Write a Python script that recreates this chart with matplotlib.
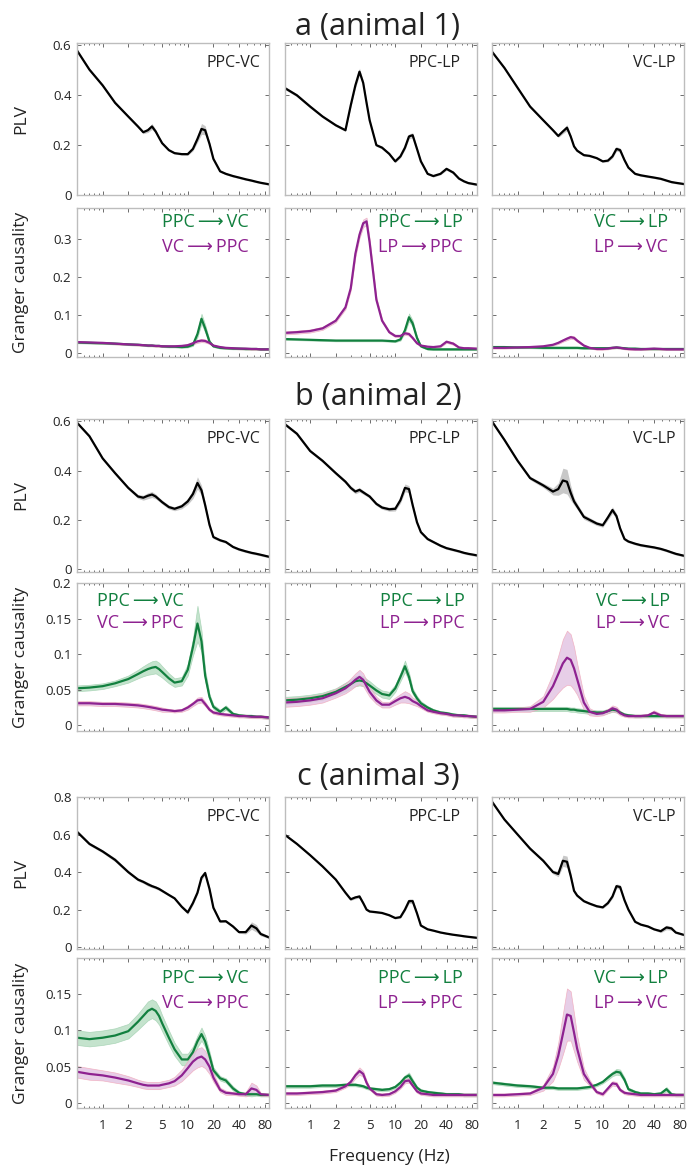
import numpy as np
import matplotlib.pyplot as plt
from matplotlib.ticker import NullFormatter

plt.rcParams['font.family'] = ['Open Sans', 'DejaVu Sans']

# frequency grid (Hz) shared by every curve
freq = [0.5, 0.7, 1.0, 1.4, 2.0, 2.6, 3.0, 3.4, 3.8, 4.2, 4.6, 5.0, 6, 7, 8.5,
        10, 11.5, 13, 14.5, 16, 18, 20, 24, 28, 34, 40, 48, 56, 64, 72, 90]

# ---- animal 1: PLV (mean, half band) ----
plv_a1 = [0.58, 0.503, 0.44, 0.37, 0.315, 0.275, 0.252, 0.26, 0.275, 0.255, 0.23, 0.208, 0.18, 0.168, 0.164,
          0.164, 0.185, 0.225, 0.265, 0.26, 0.205, 0.145, 0.095, 0.085, 0.076, 0.07, 0.063, 0.058, 0.053, 0.049, 0.043]
plv_a1_sd = [0.006, 0.006, 0.006, 0.006, 0.005, 0.005, 0.006, 0.009, 0.012, 0.008, 0.005, 0.005, 0.004, 0.004, 0.004,
             0.005, 0.008, 0.014, 0.022, 0.018, 0.008, 0.005, 0.004, 0.004, 0.004, 0.004, 0.004, 0.004, 0.004, 0.004, 0.004]
plv_a2 = [0.43, 0.40, 0.355, 0.315, 0.28, 0.26, 0.36, 0.44, 0.495, 0.45, 0.37, 0.30, 0.20, 0.19, 0.165,
          0.135, 0.155, 0.19, 0.235, 0.24, 0.185, 0.135, 0.085, 0.076, 0.085, 0.105, 0.09, 0.066, 0.055, 0.048, 0.042]
plv_a2_sd = [0.006, 0.006, 0.006, 0.005, 0.005, 0.005, 0.008, 0.012, 0.014, 0.01, 0.008, 0.006, 0.005, 0.005, 0.005,
             0.005, 0.006, 0.008, 0.01, 0.01, 0.007, 0.005, 0.004, 0.004, 0.004, 0.006, 0.005, 0.004, 0.004, 0.004, 0.004]
plv_a3 = [0.575, 0.51, 0.43, 0.355, 0.30, 0.26, 0.237, 0.255, 0.27, 0.235, 0.195, 0.178, 0.16, 0.157, 0.148,
          0.135, 0.138, 0.155, 0.185, 0.18, 0.14, 0.11, 0.085, 0.079, 0.074, 0.07, 0.065, 0.058, 0.052, 0.049, 0.044]
plv_a3_sd = [0.005, 0.005, 0.005, 0.005, 0.005, 0.005, 0.006, 0.009, 0.012, 0.008, 0.005, 0.005, 0.004, 0.004, 0.004,
             0.004, 0.005, 0.007, 0.009, 0.008, 0.006, 0.004, 0.004, 0.004, 0.004, 0.004, 0.004, 0.004, 0.004, 0.004, 0.004]

# ---- animal 1: Granger causality (fwd = green, rev = purple) ----
gc_a1_fwd = [0.028, 0.027, 0.026, 0.025, 0.023, 0.022, 0.021, 0.02, 0.02, 0.019, 0.019, 0.018, 0.017, 0.017, 0.016,
             0.017, 0.022, 0.05, 0.09, 0.065, 0.03, 0.018, 0.014, 0.013, 0.012, 0.012, 0.011, 0.011, 0.011, 0.01, 0.01]
gc_a1_fwd_sd = [0.002, 0.002, 0.002, 0.002, 0.002, 0.002, 0.002, 0.002, 0.002, 0.002, 0.002, 0.002, 0.002, 0.002, 0.002,
                0.002, 0.003, 0.008, 0.013, 0.01, 0.004, 0.002, 0.002, 0.002, 0.002, 0.002, 0.002, 0.002, 0.002, 0.002, 0.002]
gc_a1_rev = [0.029, 0.028, 0.027, 0.025, 0.023, 0.022, 0.021, 0.02, 0.02, 0.019, 0.019, 0.018, 0.018, 0.018, 0.019,
             0.021, 0.026, 0.031, 0.033, 0.032, 0.027, 0.02, 0.016, 0.014, 0.013, 0.012, 0.012, 0.011, 0.011, 0.01, 0.01]
gc_a1_rev_sd = [0.002, 0.002, 0.002, 0.002, 0.002, 0.002, 0.002, 0.002, 0.002, 0.002, 0.002, 0.002, 0.002, 0.002, 0.002,
                0.002, 0.003, 0.004, 0.004, 0.004, 0.003, 0.002, 0.002, 0.002, 0.002, 0.002, 0.002, 0.002, 0.002, 0.002, 0.002]
gc_a2_fwd = [0.037, 0.036, 0.035, 0.034, 0.033, 0.033, 0.033, 0.033, 0.033, 0.033, 0.033, 0.033, 0.033, 0.033, 0.032,
             0.031, 0.036, 0.06, 0.094, 0.078, 0.04, 0.018, 0.011, 0.01, 0.01, 0.01, 0.01, 0.01, 0.01, 0.01, 0.01]
gc_a2_fwd_sd = [0.002, 0.002, 0.002, 0.002, 0.002, 0.002, 0.002, 0.002, 0.002, 0.002, 0.002, 0.002, 0.002, 0.002, 0.002,
                0.002, 0.003, 0.006, 0.01, 0.008, 0.004, 0.002, 0.002, 0.002, 0.002, 0.002, 0.002, 0.002, 0.002, 0.002, 0.002]
gc_a2_rev = [0.053, 0.055, 0.058, 0.065, 0.085, 0.12, 0.17, 0.26, 0.31, 0.34, 0.345, 0.29, 0.14, 0.085, 0.055,
             0.045, 0.045, 0.052, 0.05, 0.04, 0.026, 0.02, 0.017, 0.016, 0.018, 0.03, 0.025, 0.015, 0.013, 0.013, 0.012]
gc_a2_rev_sd = [0.004, 0.004, 0.004, 0.004, 0.004, 0.005, 0.006, 0.008, 0.009, 0.01, 0.01, 0.009, 0.006, 0.004, 0.003,
                0.003, 0.003, 0.004, 0.004, 0.003, 0.002, 0.002, 0.002, 0.002, 0.002, 0.003, 0.003, 0.002, 0.002, 0.002, 0.002]
gc_a3_fwd = [0.016, 0.016, 0.015, 0.015, 0.014, 0.014, 0.014, 0.014, 0.014, 0.014, 0.014, 0.014, 0.013, 0.013, 0.013,
             0.013, 0.013, 0.014, 0.015, 0.014, 0.013, 0.012, 0.012, 0.011, 0.011, 0.011, 0.011, 0.011, 0.011, 0.011, 0.011]
gc_a3_fwd_sd = [0.002, 0.002, 0.002, 0.002, 0.002, 0.002, 0.002, 0.002, 0.002, 0.002, 0.002, 0.002, 0.002, 0.002, 0.002,
                0.002, 0.002, 0.002, 0.002, 0.002, 0.002, 0.002, 0.002, 0.002, 0.002, 0.002, 0.002, 0.002, 0.002, 0.002, 0.002]
gc_a3_rev = [0.014, 0.014, 0.015, 0.016, 0.018, 0.022, 0.027, 0.033, 0.038, 0.042, 0.04, 0.033, 0.02, 0.014, 0.011,
             0.011, 0.012, 0.014, 0.015, 0.014, 0.012, 0.011, 0.01, 0.01, 0.011, 0.012, 0.011, 0.01, 0.01, 0.01, 0.01]
gc_a3_rev_sd = [0.002, 0.002, 0.002, 0.002, 0.002, 0.002, 0.003, 0.003, 0.004, 0.004, 0.004, 0.003, 0.002, 0.002, 0.002,
                0.002, 0.002, 0.002, 0.002, 0.002, 0.002, 0.002, 0.002, 0.002, 0.002, 0.002, 0.002, 0.002, 0.002, 0.002, 0.002]

# ---- animal 2 ----
plv_b1 = [0.595, 0.54, 0.45, 0.39, 0.33, 0.295, 0.29, 0.298, 0.303, 0.295, 0.283, 0.272, 0.252, 0.245, 0.255,
          0.275, 0.305, 0.35, 0.32, 0.26, 0.18, 0.13, 0.117, 0.11, 0.09, 0.08, 0.072, 0.066, 0.062, 0.058, 0.05]
plv_b1_sd = [0.006, 0.006, 0.006, 0.006, 0.006, 0.008, 0.01, 0.012, 0.012, 0.01, 0.008, 0.008, 0.008, 0.008, 0.01,
             0.012, 0.018, 0.025, 0.02, 0.012, 0.008, 0.006, 0.005, 0.005, 0.005, 0.005, 0.005, 0.005, 0.005, 0.005, 0.005]
plv_b2 = [0.59, 0.55, 0.48, 0.44, 0.39, 0.355, 0.33, 0.315, 0.322, 0.312, 0.303, 0.295, 0.265, 0.25, 0.243,
          0.245, 0.28, 0.33, 0.325, 0.26, 0.19, 0.15, 0.122, 0.11, 0.095, 0.085, 0.078, 0.072, 0.066, 0.062, 0.056]
plv_b2_sd = [0.006, 0.006, 0.006, 0.006, 0.006, 0.007, 0.008, 0.009, 0.009, 0.008, 0.007, 0.007, 0.007, 0.007, 0.008,
             0.009, 0.012, 0.016, 0.014, 0.01, 0.007, 0.006, 0.005, 0.005, 0.005, 0.005, 0.005, 0.005, 0.005, 0.005, 0.005]
plv_b3 = [0.60, 0.525, 0.44, 0.37, 0.34, 0.315, 0.325, 0.36, 0.355, 0.31, 0.275, 0.255, 0.212, 0.2, 0.185,
          0.178, 0.21, 0.24, 0.215, 0.165, 0.122, 0.112, 0.103, 0.097, 0.092, 0.088, 0.082, 0.075, 0.068, 0.062, 0.054]
plv_b3_sd = [0.006, 0.006, 0.006, 0.007, 0.009, 0.014, 0.025, 0.05, 0.05, 0.03, 0.015, 0.012, 0.01, 0.009, 0.008,
             0.008, 0.01, 0.013, 0.011, 0.008, 0.006, 0.005, 0.005, 0.005, 0.005, 0.005, 0.005, 0.005, 0.005, 0.005, 0.005]

gc_b1_fwd = [0.052, 0.053, 0.055, 0.059, 0.065, 0.072, 0.076, 0.079, 0.081, 0.082, 0.079, 0.075, 0.066, 0.06, 0.062,
             0.078, 0.11, 0.143, 0.118, 0.07, 0.04, 0.026, 0.019, 0.025, 0.016, 0.014, 0.013, 0.013, 0.012, 0.012, 0.011]
gc_b1_fwd_sd = [0.004, 0.004, 0.004, 0.004, 0.005, 0.006, 0.007, 0.008, 0.009, 0.009, 0.009, 0.008, 0.007, 0.006, 0.006,
                0.008, 0.012, 0.025, 0.015, 0.008, 0.004, 0.003, 0.003, 0.003, 0.002, 0.002, 0.002, 0.002, 0.002, 0.002, 0.002]
gc_b1_rev = [0.031, 0.031, 0.03, 0.03, 0.029, 0.028, 0.027, 0.026, 0.025, 0.024, 0.023, 0.022, 0.021, 0.02, 0.021,
             0.025, 0.03, 0.035, 0.036, 0.03, 0.022, 0.018, 0.016, 0.015, 0.014, 0.013, 0.013, 0.012, 0.012, 0.012, 0.011]
gc_b1_rev_sd = [0.003, 0.003, 0.003, 0.003, 0.003, 0.003, 0.003, 0.003, 0.003, 0.003, 0.003, 0.003, 0.002, 0.002, 0.002,
                0.003, 0.003, 0.004, 0.004, 0.003, 0.002, 0.002, 0.002, 0.002, 0.002, 0.002, 0.002, 0.002, 0.002, 0.002, 0.002]
gc_b2_fwd = [0.035, 0.036, 0.038, 0.041, 0.047, 0.054, 0.058, 0.062, 0.063, 0.062, 0.059, 0.056, 0.049, 0.044, 0.042,
             0.052, 0.068, 0.083, 0.068, 0.048, 0.038, 0.031, 0.025, 0.021, 0.018, 0.017, 0.015, 0.014, 0.014, 0.013, 0.012]
gc_b2_fwd_sd = [0.005, 0.005, 0.005, 0.005, 0.005, 0.006, 0.006, 0.007, 0.007, 0.007, 0.006, 0.006, 0.005, 0.005, 0.005,
                0.005, 0.006, 0.008, 0.006, 0.004, 0.003, 0.003, 0.002, 0.002, 0.002, 0.002, 0.002, 0.002, 0.002, 0.002, 0.002]
gc_b2_rev = [0.032, 0.033, 0.035, 0.038, 0.045, 0.052, 0.058, 0.064, 0.068, 0.064, 0.055, 0.047, 0.035, 0.029, 0.029,
             0.034, 0.038, 0.04, 0.038, 0.034, 0.031, 0.027, 0.021, 0.019, 0.017, 0.016, 0.014, 0.014, 0.013, 0.013, 0.012]
gc_b2_rev_sd = [0.006, 0.006, 0.006, 0.006, 0.006, 0.007, 0.008, 0.009, 0.01, 0.009, 0.008, 0.007, 0.005, 0.004, 0.004,
                0.005, 0.006, 0.008, 0.007, 0.005, 0.004, 0.003, 0.002, 0.002, 0.002, 0.002, 0.002, 0.002, 0.002, 0.002, 0.002]
gc_b3_fwd = [0.023, 0.023, 0.023, 0.023, 0.023, 0.023, 0.023, 0.023, 0.023, 0.022, 0.022, 0.021, 0.02, 0.019, 0.018,
             0.018, 0.02, 0.022, 0.021, 0.018, 0.015, 0.014, 0.013, 0.013, 0.013, 0.013, 0.013, 0.013, 0.013, 0.013, 0.013]
gc_b3_fwd_sd = [0.003, 0.003, 0.003, 0.003, 0.003, 0.003, 0.003, 0.003, 0.003, 0.003, 0.003, 0.003, 0.003, 0.003, 0.003,
                0.003, 0.003, 0.003, 0.003, 0.002, 0.002, 0.002, 0.002, 0.002, 0.002, 0.002, 0.002, 0.002, 0.002, 0.002, 0.002]
gc_b3_rev = [0.021, 0.021, 0.022, 0.023, 0.033, 0.055, 0.072, 0.087, 0.095, 0.092, 0.08, 0.065, 0.032, 0.019, 0.016,
             0.017, 0.02, 0.024, 0.022, 0.017, 0.014, 0.013, 0.013, 0.013, 0.014, 0.018, 0.014, 0.013, 0.013, 0.013, 0.013]
gc_b3_rev_sd = [0.003, 0.003, 0.003, 0.004, 0.008, 0.018, 0.026, 0.034, 0.038, 0.036, 0.03, 0.022, 0.01, 0.005, 0.003,
                0.003, 0.003, 0.004, 0.004, 0.003, 0.002, 0.002, 0.002, 0.002, 0.002, 0.003, 0.002, 0.002, 0.002, 0.002, 0.002]

# ---- animal 3 ----
plv_c1 = [0.615, 0.55, 0.51, 0.465, 0.40, 0.36, 0.348, 0.335, 0.325, 0.318, 0.31, 0.30, 0.278, 0.26, 0.215,
          0.185, 0.235, 0.29, 0.37, 0.395, 0.31, 0.21, 0.137, 0.138, 0.11, 0.08, 0.08, 0.115, 0.1, 0.07, 0.052]
plv_c1_sd = [0.008, 0.008, 0.008, 0.01, 0.008, 0.008, 0.008, 0.01, 0.008, 0.008, 0.008, 0.007, 0.006, 0.006, 0.008,
             0.01, 0.01, 0.01, 0.012, 0.012, 0.01, 0.008, 0.006, 0.006, 0.006, 0.006, 0.01, 0.02, 0.02, 0.01, 0.006]
plv_c2 = [0.60, 0.55, 0.49, 0.43, 0.36, 0.29, 0.255, 0.265, 0.27, 0.235, 0.2, 0.19, 0.186, 0.182, 0.17,
          0.155, 0.16, 0.2, 0.245, 0.245, 0.18, 0.115, 0.095, 0.088, 0.078, 0.072, 0.066, 0.062, 0.058, 0.055, 0.05]
plv_c2_sd = [0.005, 0.005, 0.005, 0.005, 0.005, 0.005, 0.006, 0.008, 0.01, 0.008, 0.006, 0.005, 0.005, 0.005, 0.005,
             0.005, 0.006, 0.008, 0.012, 0.012, 0.008, 0.005, 0.004, 0.004, 0.004, 0.004, 0.004, 0.004, 0.004, 0.004, 0.004]
plv_c3 = [0.775, 0.68, 0.60, 0.525, 0.46, 0.40, 0.39, 0.46, 0.455, 0.38, 0.30, 0.275, 0.245, 0.232, 0.218,
          0.212, 0.235, 0.27, 0.325, 0.32, 0.25, 0.2, 0.135, 0.12, 0.11, 0.095, 0.085, 0.105, 0.1, 0.078, 0.065]
plv_c3_sd = [0.006, 0.006, 0.006, 0.008, 0.008, 0.01, 0.015, 0.03, 0.03, 0.02, 0.01, 0.008, 0.006, 0.006, 0.006,
             0.006, 0.008, 0.01, 0.012, 0.012, 0.008, 0.006, 0.005, 0.005, 0.005, 0.005, 0.008, 0.012, 0.01, 0.006, 0.005]

gc_c1_fwd = [0.09, 0.088, 0.09, 0.093, 0.099, 0.112, 0.12, 0.127, 0.13, 0.127, 0.12, 0.11, 0.09, 0.074, 0.06,
             0.06, 0.07, 0.085, 0.095, 0.085, 0.065, 0.045, 0.034, 0.031, 0.02, 0.014, 0.012, 0.012, 0.012, 0.011, 0.011]
gc_c1_fwd_sd = [0.01, 0.01, 0.01, 0.01, 0.01, 0.011, 0.012, 0.013, 0.013, 0.013, 0.012, 0.011, 0.01, 0.009, 0.008,
                0.008, 0.008, 0.008, 0.009, 0.008, 0.006, 0.004, 0.003, 0.003, 0.003, 0.002, 0.002, 0.003, 0.002, 0.002, 0.002]
gc_c1_rev = [0.043, 0.04, 0.038, 0.035, 0.031, 0.027, 0.025, 0.024, 0.024, 0.024, 0.024, 0.025, 0.027, 0.03, 0.038,
             0.048, 0.057, 0.062, 0.064, 0.06, 0.05, 0.035, 0.018, 0.014, 0.013, 0.012, 0.012, 0.02, 0.018, 0.012, 0.011]
gc_c1_rev_sd = [0.008, 0.008, 0.007, 0.007, 0.006, 0.005, 0.005, 0.005, 0.005, 0.005, 0.005, 0.005, 0.005, 0.006, 0.008,
                0.01, 0.012, 0.013, 0.013, 0.012, 0.01, 0.006, 0.003, 0.003, 0.002, 0.002, 0.003, 0.008, 0.006, 0.002, 0.002]
gc_c2_fwd = [0.023, 0.023, 0.023, 0.024, 0.024, 0.025, 0.025, 0.025, 0.024, 0.023, 0.021, 0.02, 0.019, 0.018, 0.019,
             0.022, 0.028, 0.035, 0.038, 0.03, 0.021, 0.017, 0.015, 0.014, 0.013, 0.012, 0.012, 0.012, 0.011, 0.011, 0.011]
gc_c2_fwd_sd = [0.002, 0.002, 0.002, 0.002, 0.002, 0.002, 0.002, 0.002, 0.002, 0.002, 0.002, 0.002, 0.002, 0.002, 0.002,
                0.002, 0.002, 0.003, 0.004, 0.003, 0.002, 0.002, 0.002, 0.002, 0.002, 0.002, 0.002, 0.002, 0.002, 0.002, 0.002]
gc_c2_rev = [0.013, 0.013, 0.014, 0.015, 0.017, 0.023, 0.029, 0.038, 0.044, 0.04, 0.028, 0.02, 0.012, 0.011, 0.012,
             0.016, 0.022, 0.03, 0.031, 0.024, 0.016, 0.013, 0.012, 0.011, 0.011, 0.011, 0.011, 0.011, 0.011, 0.011, 0.011]
gc_c2_rev_sd = [0.002, 0.002, 0.002, 0.002, 0.002, 0.002, 0.003, 0.004, 0.005, 0.004, 0.003, 0.002, 0.002, 0.002, 0.002,
                0.002, 0.002, 0.003, 0.003, 0.002, 0.002, 0.002, 0.002, 0.002, 0.002, 0.002, 0.002, 0.002, 0.002, 0.002, 0.002]
gc_c3_fwd = [0.028, 0.026, 0.024, 0.023, 0.021, 0.021, 0.02, 0.02, 0.02, 0.02, 0.02, 0.02, 0.021, 0.022, 0.025,
             0.029, 0.035, 0.04, 0.043, 0.042, 0.032, 0.019, 0.015, 0.013, 0.013, 0.012, 0.013, 0.019, 0.012, 0.011, 0.011]
gc_c3_fwd_sd = [0.002, 0.002, 0.002, 0.002, 0.002, 0.002, 0.002, 0.002, 0.002, 0.002, 0.002, 0.002, 0.002, 0.002, 0.002,
                0.002, 0.003, 0.003, 0.004, 0.004, 0.003, 0.002, 0.002, 0.002, 0.002, 0.002, 0.002, 0.003, 0.002, 0.002, 0.002]
gc_c3_rev = [0.011, 0.011, 0.012, 0.013, 0.021, 0.04, 0.065, 0.095, 0.122, 0.12, 0.097, 0.075, 0.04, 0.028, 0.015,
             0.012, 0.02, 0.027, 0.026, 0.018, 0.014, 0.013, 0.012, 0.011, 0.011, 0.011, 0.011, 0.011, 0.011, 0.011, 0.011]
gc_c3_rev_sd = [0.002, 0.002, 0.002, 0.002, 0.004, 0.01, 0.018, 0.028, 0.036, 0.034, 0.026, 0.018, 0.008, 0.004, 0.002,
                0.002, 0.002, 0.003, 0.003, 0.002, 0.002, 0.002, 0.002, 0.002, 0.002, 0.002, 0.002, 0.002, 0.002, 0.002, 0.002]

pair_names = ['PPC-VC', 'PPC-LP', 'VC-LP']
fwd_labels = ['PPC\u2009\u27f6\u2009VC', 'PPC\u2009\u27f6\u2009LP', 'VC\u2009\u27f6\u2009LP']
rev_labels = ['VC\u2009\u27f6\u2009PPC', 'LP\u2009\u27f6\u2009PPC', 'LP\u2009\u27f6\u2009VC']
titles = ['a (animal 1)', 'b (animal 2)', 'c (animal 3)']
xtick_vals = [1, 2, 5, 10, 20, 40, 80]

GREEN = '#12803f'
PURPLE = '#8e2290'
TXT = '#222222'

# ---- layout in pixels ----
W, H = 689, 1169
cols = [(77, 269), (284.5, 476.5), (492, 684)]
rows = [(43, 195), (208, 357), (419, 572), (583, 731), (797, 949), (958, 1108)]


def rect(l, t, r, b):
    return [l / W, 1 - b / H, (r - l) / W, (b - t) / H]


def style_ax(ax, ylim, yticks, show_y, show_x):
    ax.set_xscale('log')
    ax.set_xlim(0.5, 90)
    ax.set_ylim(*ylim)
    ax.set_xticks(xtick_vals)
    ax.xaxis.set_minor_formatter(NullFormatter())
    ax.set_xticklabels([str(v) for v in xtick_vals] if show_x else [])
    ax.set_yticks(yticks)
    ax.set_yticklabels(['%g' % v for v in yticks] if show_y else [])
    ax.tick_params(which='both', direction='in', top=True, right=True,
                   color='#555555', width=0.6, labelsize=9.5, labelcolor=TXT, pad=4)
    ax.tick_params(which='major', length=3)
    ax.tick_params(which='minor', length=1.5)
    ax.tick_params(axis='x', pad=8)
    for s in ax.spines.values():
        s.set_color('#bdbdbd')
        s.set_linewidth(1.0)


fig = plt.figure(figsize=(W / 100, H / 100), dpi=100)

plv_sets = [[(plv_a1, plv_a1_sd), (plv_a2, plv_a2_sd), (plv_a3, plv_a3_sd)],
            [(plv_b1, plv_b1_sd), (plv_b2, plv_b2_sd), (plv_b3, plv_b3_sd)],
            [(plv_c1, plv_c1_sd), (plv_c2, plv_c2_sd), (plv_c3, plv_c3_sd)]]
gc_sets = [[(gc_a1_fwd, gc_a1_fwd_sd, gc_a1_rev, gc_a1_rev_sd),
            (gc_a2_fwd, gc_a2_fwd_sd, gc_a2_rev, gc_a2_rev_sd),
            (gc_a3_fwd, gc_a3_fwd_sd, gc_a3_rev, gc_a3_rev_sd)],
           [(gc_b1_fwd, gc_b1_fwd_sd, gc_b1_rev, gc_b1_rev_sd),
            (gc_b2_fwd, gc_b2_fwd_sd, gc_b2_rev, gc_b2_rev_sd),
            (gc_b3_fwd, gc_b3_fwd_sd, gc_b3_rev, gc_b3_rev_sd)],
           [(gc_c1_fwd, gc_c1_fwd_sd, gc_c1_rev, gc_c1_rev_sd),
            (gc_c2_fwd, gc_c2_fwd_sd, gc_c2_rev, gc_c2_rev_sd),
            (gc_c3_fwd, gc_c3_fwd_sd, gc_c3_rev, gc_c3_rev_sd)]]

plv_ylims = [(0, 0.61), (-0.012, 0.61), (-0.01, 0.8)]
plv_yticks = [[0, 0.2, 0.4, 0.6], [0, 0.2, 0.4, 0.6], [0, 0.2, 0.4, 0.6, 0.8]]
gc_ylims = [(-0.01, 0.38), (-0.008, 0.2), (-0.007, 0.2)]
gc_yticks = [[0, 0.1, 0.2, 0.3], [0, 0.05, 0.1, 0.15, 0.2], [0, 0.05, 0.1, 0.15]]

# legend anchors (axes fraction): x, ha, y1, y2
legend_pos = [[(0.896, 'right', 0.906, 0.738), (0.93, 'right', 0.906, 0.738), (0.917, 'right', 0.906, 0.738)],
              [(0.104, 'left', 0.879, 0.732), (0.94, 'right', 0.879, 0.732), (0.927, 'right', 0.879, 0.732)],
              [(0.896, 'right', 0.867, 0.70), (0.93, 'right', 0.867, 0.70), (0.917, 'right', 0.867, 0.70)]]
name_x = [0.955, 0.915, 0.955]
title_y = [27, 397, 777]

for r in range(3):
    fig.text(378 / W, 1 - title_y[r] / H, titles[r], ha='center', va='center', fontsize=22, color=TXT)
    for c in range(3):
        l, rr = cols[c]
        # PLV panel
        t, b = rows[2 * r]
        ax = fig.add_axes(rect(l, t, rr, b))
        y, sd = np.array(plv_sets[r][c][0]), np.array(plv_sets[r][c][1])
        ax.fill_between(freq, y - sd, y + sd, color='#c8c8c8', lw=0)
        ax.plot(freq, y, color='black', lw=1.6)
        style_ax(ax, plv_ylims[r], plv_yticks[r], c == 0, False)
        ax.text(name_x[c], 0.87, pair_names[c], transform=ax.transAxes, ha='right', va='center',
                fontsize=11.5, color=TXT)
        if c == 0:
            fig.text(21 / W, 1 - (t + b) / 2 / H, 'PLV', rotation=90, ha='center', va='center',
                     fontsize=12.5, color=TXT)
        # Granger panel
        t, b = rows[2 * r + 1]
        ax = fig.add_axes(rect(l, t, rr, b))
        fw, fsd, rv, rsd = [np.array(v) for v in gc_sets[r][c]]
        ax.fill_between(freq, fw - fsd, fw + fsd, facecolor='#b6dcc1', edgecolor='#9fd0ae', lw=0.5, alpha=0.8)
        ax.fill_between(freq, rv - rsd, rv + rsd, facecolor='#e2c2e2', edgecolor='#f0a6b8', lw=0.5, alpha=0.8)
        ax.plot(freq, fw, color=GREEN, lw=1.6)
        ax.plot(freq, rv, color=PURPLE, lw=1.6)
        style_ax(ax, gc_ylims[r], gc_yticks[r], c == 0, r == 2)
        lx, ha, y1, y2 = legend_pos[r][c]
        ax.text(lx, y1, fwd_labels[c], transform=ax.transAxes, ha=ha, va='center', fontsize=13, color=GREEN)
        ax.text(lx, y2, rev_labels[c], transform=ax.transAxes, ha=ha, va='center', fontsize=13, color=PURPLE)
        if c == 0:
            fig.text(21 / W, 1 - (t + b) / 2 / H, 'Granger causality', rotation=90, ha='center', va='center',
                     fontsize=12.5, color=TXT)

fig.text(389 / W, 1 - 1157 / H, 'Frequency (Hz)', ha='center', va='center', fontsize=12.5, color=TXT)

fig.savefig('out.png', dpi=100)
